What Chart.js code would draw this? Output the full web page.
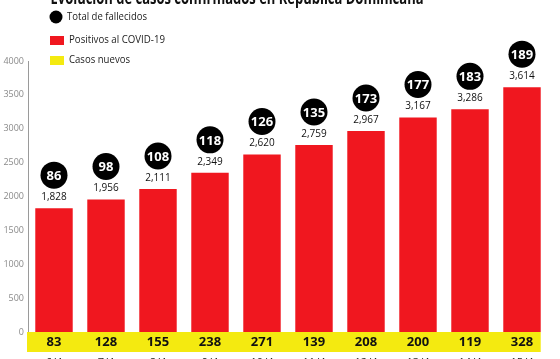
<!DOCTYPE html>
<html>
<head>
<meta charset="utf-8">
<script src="https://cdn.jsdelivr.net/npm/chart.js@4/dist/chart.umd.min.js"></script>
<style>
  html, body { margin: 0; padding: 0; background: #fff; overflow: hidden; }
  #wrap { position: absolute; left: 0; top: -12px; width: 560px; height: 385px; }
</style>
</head>
<body>
<div id="wrap"><canvas id="chart"></canvas></div>
<script>
// --- datos ---
const fechas     = ["6/4", "7/4", "8/4", "9/4", "10/4", "11/4", "12/4", "13/4", "14/4", "15/4"];
const positivos  = [1828, 1956, 2111, 2349, 2620, 2759, 2967, 3167, 3286, 3614];
const fallecidos = [86, 98, 108, 118, 126, 135, 173, 177, 183, 189];
const nuevos     = [83, 128, 155, 238, 271, 139, 208, 200, 119, 328];
const yTicks     = [0, 500, 1000, 1500, 2000, 2500, 3000, 3500, 4000];

const titulo = "Evolución de casos confirmados en República Dominicana";
const leyenda = ["Total de fallecidos", "Positivos al COVID-19", "Casos nuevos"];

const ROJO = "#f0171f";
const AMARILLO = "#f4ea10";
const OFF = 12; // el canvas empieza 12px arriba de la ventana

const extras = {
  id: "extras",
  afterDraw(chart) {
    const ctx = chart.ctx;
    const area = chart.chartArea;
    const meta = chart.getDatasetMeta(0);

    ctx.save();

    // titulo (cortado arriba)
    ctx.fillStyle = "#111";
    ctx.font = "bold 17px 'Open Sans'";
    ctx.textAlign = "center";
    ctx.textBaseline = "alphabetic";
    ctx.fillText(titulo, 237, OFF + 4, 373);

    // leyenda
    ctx.textAlign = "left";
    ctx.textBaseline = "middle";
    ctx.font = "11.5px 'Open Sans'";
    ctx.fillStyle = "#000";
    ctx.beginPath();
    ctx.arc(56, OFF + 17, 6.5, 0, Math.PI * 2);
    ctx.fill();
    ctx.fillStyle = "#222";
    ctx.fillText(leyenda[0], 67, OFF + 17, 80);
    ctx.fillStyle = ROJO;
    ctx.fillRect(50, OFF + 36, 14, 9);
    ctx.fillStyle = "#222";
    ctx.fillText(leyenda[1], 69, OFF + 40, 96);
    ctx.fillStyle = AMARILLO;
    ctx.fillRect(50, OFF + 56, 14, 9);
    ctx.fillStyle = "#222";
    ctx.fillText(leyenda[2], 69, OFF + 60, 61);

    // franja amarilla de casos nuevos
    const last = meta.data[meta.data.length - 1];
    const bandRight = last.x + last.width / 2;
    ctx.fillStyle = AMARILLO;
    ctx.fillRect(area.left - 1, area.bottom, bandRight - area.left + 1, 20);

    meta.data.forEach((bar, i) => {
      // casos nuevos
      ctx.fillStyle = "#111";
      ctx.font = "bold 13px 'Open Sans'";
      ctx.textAlign = "center";
      ctx.textBaseline = "middle";
      ctx.fillText(String(nuevos[i]), bar.x, area.bottom + 10);

      // valor de la barra
      ctx.font = "10px 'Open Sans'";
      ctx.fillText(positivos[i].toLocaleString("en-US"), bar.x, bar.y - 11);

      // circulo de fallecidos
      ctx.fillStyle = "#000";
      ctx.beginPath();
      ctx.arc(bar.x, bar.y - 33, 13.5, 0, Math.PI * 2);
      ctx.fill();
      ctx.fillStyle = "#fff";
      ctx.font = "bold 13px 'Open Sans'";
      ctx.fillText(String(fallecidos[i]), bar.x, bar.y - 32);
    });

    ctx.restore();
  }
};

new Chart(document.querySelector("#chart"), {
  type: "bar",
  data: {
    labels: fechas,
    datasets: [{
      label: leyenda[1],
      data: positivos,
      backgroundColor: ROJO,
      barPercentage: 0.72,
      categoryPercentage: 1,
    }],
  },
  options: {
    responsive: true,
    maintainAspectRatio: false,
    animation: false,
    layout: { padding: { top: 61 + OFF, right: 12, left: 0, bottom: 0 } },
    plugins: {
      legend: { display: false },
      tooltip: { enabled: false },
    },
    scales: {
      x: {
        grid: { display: false, drawTicks: false },
        border: { display: false },
        ticks: {
          autoSkip: false, maxRotation: 0, padding: 24,
          color: "#222", font: { family: "'Open Sans'", size: 11 },
        },
        afterFit: (axis) => { axis.height = 41; },
      },
      y: {
        min: 0, max: 4000,
        afterBuildTicks: (axis) => { axis.ticks = yTicks.map(v => ({ value: v })); },
        grid: { display: false, drawTicks: false },
        border: { display: true, color: "#9a9a9a", width: 1 },
        ticks: {
          padding: 4, color: "#8a8a8a",
          font: { family: "'Open Sans'", size: 9 },
          callback: (v) => String(v),
        },
        afterFit: (axis) => { axis.width = 28; },
      },
    },
  },
  plugins: [extras],
});
</script>
</body>
</html>
